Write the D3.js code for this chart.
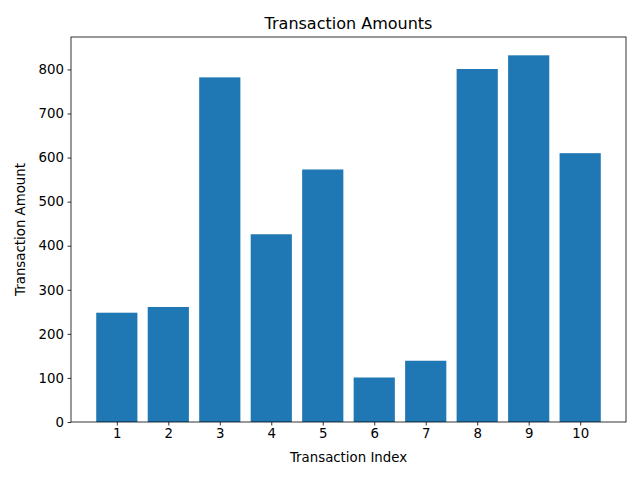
<!DOCTYPE html>
<html>
<head>
<meta charset="utf-8">
<script src="https://cdn.jsdelivr.net/npm/d3@7"></script>
<style>
  body { margin: 0; background: white; }
  text { font-family: "DejaVu Sans", sans-serif; }
</style>
</head>
<body>
<svg id="chart" width="640" height="480"></svg>
<script>
const indices = [1, 2, 3, 4, 5, 6, 7, 8, 9, 10];
const amounts = [248, 261, 782, 426, 573, 101, 139, 801, 832, 610];
const yTicks = [0, 100, 200, 300, 400, 500, 600, 700, 800];

const svg = d3.select('#chart');
const plotL = 71, plotR = 626, plotT = 37, plotB = 422;

const x = d3.scaleLinear().domain([0.11, 10.89]).range([plotL, plotR]);
const yMax = d3.max(amounts) * 1.05;
const y = d3.scaleLinear().domain([0, yMax]).range([plotB, plotT]);
const barW = x(0.8) - x(0);

svg.selectAll('rect.bar').data(amounts).join('rect')
    .attr('class', 'bar')
    .attr('x', (d, i) => x(indices[i]) - barW / 2)
    .attr('width', barW)
    .attr('y', d => y(d))
    .attr('height', d => plotB - y(d))
    .attr('fill', '#1f77b4');

// axes
const xAxis = svg.append('g').attr('transform', `translate(0,${plotB})`)
    .call(d3.axisBottom(x).tickValues(indices).tickFormat(d3.format('d')).tickSize(3.5).tickPadding(3.5));
const yAxis = svg.append('g').attr('transform', `translate(${plotL},0)`)
    .call(d3.axisLeft(y).tickValues(yTicks).tickFormat(d3.format('d')).tickSize(3.5).tickPadding(3.5));
[xAxis, yAxis].forEach(g => {
    g.select('.domain').remove();
    g.selectAll('line').attr('stroke', 'black').attr('stroke-width', 0.8);
    g.selectAll('text').attr('font-size', '13.33px').attr('fill', 'black')
        .style('font-family', '"DejaVu Sans", sans-serif');
});

// frame
svg.append('rect')
    .attr('x', plotL).attr('y', plotT)
    .attr('width', plotR - plotL).attr('height', plotB - plotT)
    .attr('fill', 'none').attr('stroke', 'black').attr('stroke-width', 0.8);

svg.append('text')
    .attr('x', (plotL + plotR) / 2).attr('y', plotT - 8)
    .attr('text-anchor', 'middle').attr('font-size', '16px')
    .text('Transaction Amounts');

svg.append('text')
    .attr('x', (plotL + plotR) / 2).attr('y', 462)
    .attr('text-anchor', 'middle').attr('font-size', '13.33px')
    .text('Transaction Index');

svg.append('text')
    .attr('transform', `translate(25,${(plotT + plotB) / 2}) rotate(-90)`)
    .attr('text-anchor', 'middle').attr('font-size', '13.33px')
    .text('Transaction Amount');
</script>
</body>
</html>
